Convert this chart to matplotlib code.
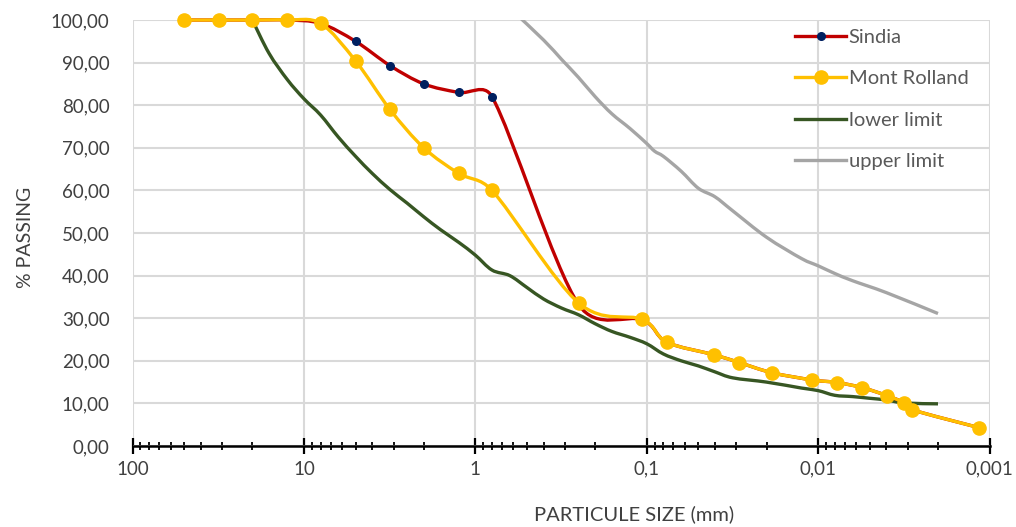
import numpy as np
import matplotlib
matplotlib.use('Agg')
import matplotlib.pyplot as plt
from matplotlib.path import Path
from matplotlib.patches import PathPatch
from matplotlib.lines import Line2D
from matplotlib.ticker import FixedLocator, LogLocator, NullFormatter

plt.rcParams['font.family'] = ['Lato', 'DejaVu Sans']

# grain sizes (mm) and % passing
sindia_x = [50, 31.5, 20, 12.5, 8, 5, 3.15, 2, 1.25, 0.8, 0.25, 0.106,
            0.0767, 0.0404, 0.0289, 0.0186, 0.0108, 0.00774, 0.00553,
            0.00395, 0.00317, 0.00282, 0.00115]
sindia_y = [100, 100, 100, 100, 99.2, 95, 89.3, 85, 83, 82, 33.2, 29.6,
            24.4, 21.4, 19.6, 17.2, 15.5, 14.9, 13.7, 11.8, 10.2, 8.5, 4.3]

mont_x = [50, 31.5, 20, 12.5, 8, 5, 3.15, 2, 1.25, 0.8, 0.25, 0.106,
          0.0767, 0.0404, 0.0289, 0.0186, 0.0108, 0.00774, 0.00553,
          0.00395, 0.00317, 0.00282, 0.00115]
mont_y = [100, 100, 100, 100, 99.2, 90.4, 79, 70, 64, 60, 33.6, 29.7,
          24.4, 21.4, 19.6, 17.2, 15.5, 14.9, 13.7, 11.8, 10.2, 8.5, 4.3]

lower_x = [20, 16, 12.5, 10, 8, 6.3, 5, 4, 3.15, 2.5, 2, 1.6, 1.25, 1, 0.8,
           0.63, 0.5, 0.4, 0.315, 0.25, 0.2, 0.16, 0.125, 0.1, 0.08, 0.063,
           0.05, 0.04, 0.0315, 0.02, 0.0125, 0.01, 0.008, 0.0063, 0.005,
           0.004, 0.00315, 0.002]
lower_y = [100, 92.2, 86, 81.5, 77.7, 72.5, 68, 64, 60.2, 57, 53.8, 50.8,
           47.8, 44.8, 41.3, 40, 37.2, 34.5, 32.4, 30.8, 28.7, 26.9, 25.5, 24,
           21.6, 20, 18.8, 17.4, 16, 15, 13.6, 13, 11.9, 11.6, 11.2, 10.8,
           10.1, 9.9]

upper_x = [0.6, 0.4, 0.315, 0.25, 0.2, 0.16, 0.125, 0.1, 0.09, 0.08, 0.063,
           0.05, 0.04, 0.0315, 0.02, 0.0125, 0.01, 0.008, 0.0063, 0.004, 0.002]
upper_y = [102, 95.3, 90.8, 86.5, 82, 78, 74.5, 71, 69.2, 68, 64.5, 60.5,
           58.5, 55.2, 49, 44, 42.3, 40.5, 38.8, 36, 31.1]

x_ticks = [100, 10, 1, 0.1, 0.01, 0.001]
x_labels = ['100', '10', '1', '0,1', '0,01', '0,001']
y_ticks = [0, 10, 20, 30, 40, 50, 60, 70, 80, 90, 100]


def smooth_path(xs, ys):
    # excel-like smoothed line: cubic beziers in log-x space,
    # tangent handles capped to half of the neighbouring segment
    u = np.log10(xs) * 40.0  # roughly the same screen scale as y
    y = np.array(ys, dtype=float)
    n = len(xs)
    seg = np.hypot(np.diff(u), np.diff(y))
    verts = [(xs[0], ys[0])]
    codes = [Path.MOVETO]
    for i in range(n - 1):
        a = max(i - 1, 0)
        d = min(i + 2, n - 1)
        t1 = np.array([u[i + 1] - u[a], y[i + 1] - y[a]]) / 6
        t2 = np.array([u[d] - u[i], y[d] - y[i]]) / 6
        lim = 0.5 * seg[i]
        if np.hypot(*t1) > lim:
            t1 *= lim / np.hypot(*t1)
        if np.hypot(*t2) > lim:
            t2 *= lim / np.hypot(*t2)
        c1 = (u[i] + t1[0], y[i] + t1[1])
        c2 = (u[i + 1] - t2[0], y[i + 1] - t2[1])
        verts += [(10 ** (c1[0] / 40), c1[1]), (10 ** (c2[0] / 40), c2[1]),
                  (xs[i + 1], ys[i + 1])]
        codes += [Path.CURVE4] * 3
    return Path(verts, codes)


red = '#C00000'
navy = '#002060'
gold = '#FFC000'
green = '#375623'
grey = '#A5A5A5'
txt = '#404040'

fig = plt.figure(figsize=(10.16, 5.27), dpi=100)
ax = fig.add_axes([0.1305, 0.1537, 0.8435, 0.8083])
ax.set_xscale('log')
ax.set_xlim(100, 0.001)
ax.set_ylim(0, 100)

ax.add_patch(PathPatch(smooth_path(upper_x, upper_y), fill=False, ec=grey, lw=2.4, zorder=3))
ax.add_patch(PathPatch(smooth_path(lower_x, lower_y), fill=False, ec=green, lw=2.4,
                       zorder=3, clip_on=False))
ax.add_patch(PathPatch(smooth_path(sindia_x, sindia_y), fill=False, ec=red, lw=2.4,
                       zorder=4, clip_on=False))
ax.plot(sindia_x, sindia_y, 'o', color=navy, ms=5.5, zorder=5, clip_on=False)
ax.add_patch(PathPatch(smooth_path(mont_x, mont_y), fill=False, ec=gold, lw=2.4,
                       zorder=6, clip_on=False))
ax.plot(mont_x, mont_y, 'o', color=gold, ms=9.5, zorder=7, clip_on=False)

# grid / frame
for s in ['left', 'right', 'top']:
    ax.spines[s].set_visible(False)
ax.spines['bottom'].set_color('black')
ax.spines['bottom'].set_linewidth(1.8)
ax.spines['bottom'].set_zorder(8)
ax.set_yticks(y_ticks)
ax.set_yticklabels([f'{v:.2f}'.replace('.', ',') for v in y_ticks])
ax.xaxis.set_major_locator(FixedLocator(x_ticks))
ax.set_xticklabels(x_labels)
ax.xaxis.set_minor_locator(LogLocator(base=10, subs=np.arange(2, 10), numticks=20))
ax.xaxis.set_minor_formatter(NullFormatter())
ax.grid(True, which='major', color='#D9D9D9', lw=1.5, zorder=0)
ax.set_axisbelow(True)
ax.tick_params(axis='x', which='major', direction='inout', length=11, width=1.6,
               color='black', labelsize=13.5, labelcolor=txt, pad=5)
ax.tick_params(axis='x', which='minor', direction='inout', length=6, width=1.3,
               color='black')
ax.tick_params(axis='y', length=0, labelsize=13.5, labelcolor=txt, pad=16.5)

ax.set_xlabel('PARTICULE SIZE (mm)', fontsize=14.5, color=txt)
ax.xaxis.set_label_coords(0.585, -0.14)
ax.set_ylabel('% PASSING', fontsize=14, color=txt)
ax.yaxis.set_label_coords(-0.115, 0.49)

handles = [
    Line2D([], [], color=red, lw=2.4, marker='o', ms=5.5, mfc=navy, mec=navy),
    Line2D([], [], color=gold, lw=2.4, marker='o', ms=9.5, mfc=gold, mec=gold),
    Line2D([], [], color=green, lw=2.4),
    Line2D([], [], color=grey, lw=2.4),
]
leg = ax.legend(handles, ['Sindia', 'Mont Rolland', 'lower limit', 'upper limit'],
                loc='upper left', bbox_to_anchor=(0.757, 1.012), frameon=False,
                fontsize=14.5, labelspacing=1.2, handlelength=2.5, handletextpad=0.15,
                borderaxespad=0.3)
for t in leg.get_texts():
    t.set_color('#595959')
leg.set_zorder(10)

fig.savefig('out.png', dpi=100)
